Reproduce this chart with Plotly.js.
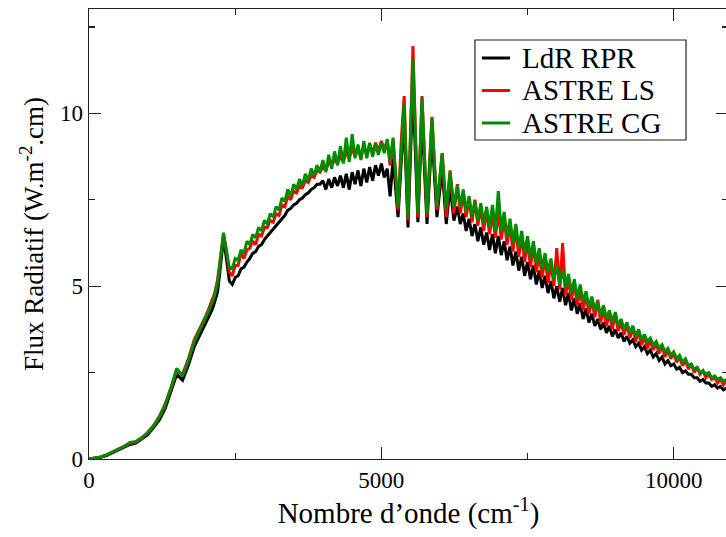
<!DOCTYPE html>
<html><head><meta charset="utf-8">
<script src="https://cdn.plot.ly/plotly-3.0.1.min.js"></script>
<style>html,body{margin:0;padding:0;overflow:hidden;background:#fff}</style>
</head><body>
<div id="chart" style="width:728px;height:537px"></div>
<script>
// Wavenumber (cm-1)
const wavenumber = [
0,100,200,300,400,500,600,700,800,900,1000,1100,1200,1300,1400,1500,1600,1700,1800,1900,2000,
2050,2100,2150,2200,2250,2300,2350,2400,2450,2500,2550,2600,2650,2700,2750,2800,2850,2900,2950,3000,
3050,3100,3150,3200,3250,3300,3350,3400,3450,3500,3550,3600,3650,3700,3750,3800,3850,3900,3950,4000,
4050,4100,4150,4200,4250,4300,4350,4400,4450,4500,4550,4600,4650,4700,4750,4800,4850,4900,4950,5000,
5050,5100,
5150,5200,5285,5340,5390,5455,5540,5625,5695,5780,5865,5950,6040,6110,6175,6240,
6300,6350,6400,6450,6500,6550,6600,6650,6700,6750,6800,6850,6900,6950,7000,7050,7100,7150,7200,7250,
7300,7350,7400,7450,7500,7550,7600,7650,7700,7750,7800,7850,7900,7950,8000,8050,8100,8150,8200,8250,
8300,8350,8400,8450,8500,8550,8600,8650,8700,8750,8800,8850,8900,8950,9000,9050,9100,9150,9200,9250,
9300,9350,9400,9450,9500,9550,9600,9650,9700,9750,9800,9850,9900,9950,10000,10050,10100,10150,10200,10250,
10300,10350,10400,10450,10500,10550,10600,10650,10700,10750,10800,10850,10900
];
// LdR RPR
const ldrRpr = [
0,0.02,0.05,0.1,0.18,0.26,0.33,0.42,0.46,0.57,0.7,0.9,1.12,1.45,1.92,2.45,2.28,2.72,3.25,3.6,3.95,
4.1,4.3,4.55,4.85,5.6,6.4,5.8,5.15,5.05,5.25,
5.3,5.5,5.55,5.7,5.8,5.95,6.0,6.15,6.2,6.35,
6.45,6.55,6.65,6.75,6.85,6.95,7.05,7.2,7.25,7.35,
7.4,7.5,7.55,7.65,7.7,7.8,7.85,7.95,7.95,8.05,
7.8,8.1,7.85,8.15,7.9,8.2,7.85,8.25,7.8,8.3,
7.95,8.35,7.9,8.4,8.0,8.45,8.05,8.5,8.2,8.55,
8.15,8.4,
7.6,8.7,7.0,8.6,9.8,6.7,10.8,6.85,9.9,6.8,9.4,7.0,8.4,6.8,7.9,6.9,
7.3,6.8,7.1,6.6,6.95,6.45,6.8,6.3,6.7,6.2,
6.55,6.05,6.5,5.95,6.45,5.9,6.3,5.75,6.15,5.6,
6.0,5.45,5.85,5.3,5.7,5.2,5.6,5.05,5.45,4.95,
5.3,4.8,5.15,4.65,5.0,4.55,4.95,4.45,4.8,4.3,
4.65,4.2,4.5,4.05,4.35,3.95,4.2,3.85,4.05,3.75,
3.95,3.65,3.85,3.55,3.75,3.5,3.65,3.4,3.55,3.35,
3.45,3.25,3.35,3.15,3.25,3.05,3.15,2.95,3.05,2.85,
2.95,2.75,2.85,2.7,2.75,2.6,2.65,2.5,2.55,2.45,
2.45,2.35,2.35,2.25,2.3,2.2,2.2,2.1,2.15,2.05,
2.1,2.0,2.05
];
// ASTRE LS
const astreLs = [
0,0.02,0.06,0.12,0.2,0.28,0.36,0.45,0.5,0.6,0.76,0.96,1.22,1.58,2.05,2.55,2.45,2.9,3.45,3.78,4.15,
4.35,4.55,4.8,5.2,5.9,6.5,6.05,5.4,5.3,5.6,
5.6,5.95,5.8,6.05,6.1,6.3,6.2,6.5,6.45,6.7,
6.7,6.9,6.85,7.1,7.05,7.35,7.3,7.6,7.5,7.75,
7.7,7.9,7.85,8.05,8.0,8.2,8.15,8.35,8.3,8.45,
8.35,8.6,8.5,8.65,8.55,8.75,8.6,8.9,8.7,9.0,
8.75,9.0,8.7,9.05,8.8,9.1,8.85,9.15,8.9,9.2,
8.95,9.2,
8.5,9.2,7.2,9.2,10.5,6.9,11.95,7.0,10.5,7.0,9.9,7.2,8.85,7.0,8.35,7.1,
7.95,7.1,7.7,7.0,7.55,6.85,7.5,6.75,7.3,6.6,
7.2,6.5,7.1,6.4,7.2,6.35,6.95,6.2,6.8,6.0,
6.7,5.85,6.45,5.7,6.3,5.55,6.2,5.4,5.95,5.25,
5.85,5.1,5.7,5.0,6.1,4.9,6.25,4.75,5.2,4.6,
5.1,4.45,4.9,4.3,4.75,4.2,4.6,4.1,4.6,3.95,
4.35,3.85,4.25,3.75,4.2,3.7,3.95,3.6,3.9,3.5,
3.8,3.4,3.7,3.3,3.55,3.2,3.45,3.15,3.35,3.05,
3.3,2.95,3.15,2.9,3.05,2.8,2.95,2.7,2.85,2.6,
2.75,2.5,2.65,2.45,2.55,2.35,2.45,2.3,2.35,2.2,
2.3,2.15,2.25
];
// ASTRE CG
const astreCg = [
0,0.02,0.06,0.12,0.2,0.28,0.36,0.48,0.5,0.62,0.75,0.95,1.2,1.55,2.05,2.62,2.4,2.85,3.4,3.75,4.1,
4.3,4.5,4.75,5.1,5.9,6.55,6.0,5.55,5.5,5.8,
5.75,6.05,5.95,6.3,6.2,6.5,6.4,6.7,6.6,6.9,
6.8,7.1,7.0,7.3,7.2,7.55,7.45,7.8,7.6,7.95,
7.8,8.1,7.9,8.25,8.05,8.4,8.2,8.5,8.3,8.65,
8.3,8.8,8.4,8.9,8.5,9.05,8.55,9.3,8.6,9.4,
8.7,9.1,8.65,9.2,8.7,9.15,8.75,9.1,8.8,9.15,
8.85,9.25,
8.6,9.3,7.3,9.0,10.3,7.0,11.55,7.1,10.45,7.1,9.85,7.3,8.85,7.2,8.3,7.3,
7.9,7.3,7.8,7.15,7.6,7.0,7.45,6.9,7.4,6.8,
7.3,6.7,7.35,6.6,7.75,6.6,7.15,6.4,6.95,6.25,
6.8,6.1,6.6,5.95,6.45,5.8,6.3,5.65,6.1,5.5,
5.95,5.4,5.8,5.2,5.6,5.05,5.5,4.95,5.35,4.8,
5.2,4.65,5.05,4.55,4.85,4.4,4.7,4.3,4.55,4.15,
4.45,4.05,4.3,3.95,4.25,3.85,4.05,3.75,3.95,3.65,
3.85,3.55,3.75,3.45,3.6,3.4,3.5,3.3,3.4,3.2,
3.3,3.1,3.2,3.0,3.1,2.9,3.0,2.8,2.9,2.7,
2.75,2.6,2.65,2.5,2.55,2.45,2.5,2.35,2.4,2.3,
2.35,2.25,2.3
];
const seriesNames = ['LdR RPR', 'ASTRE LS', 'ASTRE CG'];
const xTickVals = [0, 5000, 10000];
const yTickVals = [0, 5, 10];

const colors = ['#000000', '#ff0000', '#008b00'];
const seriesData = [ldrRpr, astreLs, astreCg];
const traces = seriesData.map((ys, i) => ({
  x: wavenumber, y: ys, name: seriesNames[i], type: 'scatter', mode: 'lines',
  line: {color: colors[i], width: 3}, showlegend: false
}));

const serif = '"Liberation Serif", "Times New Roman", serif';
// legend drawn as box + line samples + text
const lgX0 = 0.604, lgX1 = 0.9343, lgY0 = 0.7089, lgY1 = 0.9311;
const rowY = [0.8911, 0.8189, 0.7467];
const shapes = [{type: 'rect', xref: 'paper', yref: 'paper', x0: lgX0, x1: lgX1, y0: lgY0, y1: lgY1,
  line: {color: '#222', width: 1.2}, fillcolor: 'rgba(255,255,255,1)', layer: 'above'}];
const annotations = [];
seriesNames.forEach((n, i) => {
  shapes.push({type: 'line', xref: 'paper', yref: 'paper', x0: 0.615, x1: 0.6588, y0: rowY[i], y1: rowY[i],
    line: {color: colors[i], width: 3}, layer: 'above'});
  annotations.push({xref: 'paper', yref: 'paper', x: 0.6745, y: rowY[i], xanchor: 'left', yanchor: 'middle',
    text: n, showarrow: false, font: {family: serif, size: 29, color: '#000'}});
});

const layout = {
  width: 728, height: 537,
  margin: {l: 89, r: 0, t: 9, b: 78},
  paper_bgcolor: '#fff', plot_bgcolor: '#fff',
  font: {family: serif, color: '#000'},
  xaxis: {
    range: [0, 10928], tickvals: xTickVals, ticktext: xTickVals.map(String),
    ticks: 'inside', ticklen: 12, tickwidth: 1.3, tickcolor: '#222',
    minor: {tickvals: [2500, 7500], ticks: 'inside', ticklen: 6, tickwidth: 1.3, tickcolor: '#222'},
    showline: true, linecolor: '#222', linewidth: 1.3, mirror: 'ticks',
    showgrid: false, zeroline: false,
    tickfont: {family: serif, size: 23, color: '#000'},
    title: {text: 'Nombre d’onde (cm<sup>-1</sup>)', font: {family: serif, size: 29, color: '#000'}, standoff: 8},
    automargin: false
  },
  yaxis: {
    range: [0, 13.02], tickvals: yTickVals, ticktext: yTickVals.map(String),
    ticks: 'inside', ticklen: 12, tickwidth: 1.3, tickcolor: '#222',
    minor: {tickvals: [2.5, 7.5, 12.5], ticks: 'inside', ticklen: 6, tickwidth: 1.3, tickcolor: '#222'},
    showline: true, linecolor: '#222', linewidth: 1.3, mirror: 'ticks',
    showgrid: false, zeroline: false,
    tickfont: {family: serif, size: 23, color: '#000'},
    title: {text: 'Flux Radiatif (W.m<sup>-2</sup>.cm)', font: {family: serif, size: 27, color: '#000'}, standoff: 8},
    automargin: false
  },
  shapes: shapes,
  annotations: annotations,
  showlegend: false
};
Plotly.newPlot('chart', traces, layout, {displayModeBar: false, staticPlot: true});
</script>
</body></html>
